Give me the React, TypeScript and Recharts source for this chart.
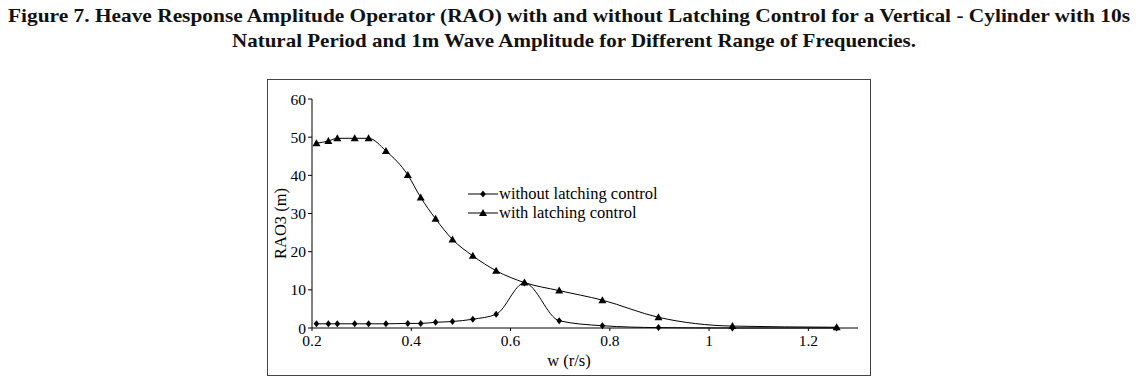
import React from 'react';
import { LineChart, Line, XAxis, YAxis, Legend } from 'recharts';

const frequencies = [0.209, 0.233, 0.251, 0.286, 0.314, 0.349, 0.393, 0.419, 0.449, 0.483, 0.524, 0.571, 0.628, 0.698, 0.785, 0.898, 1.047, 1.257];
const withoutLatching = [1.1, 1.1, 1.1, 1.1, 1.1, 1.1, 1.2, 1.2, 1.5, 1.7, 2.3, 3.6, 11.8, 1.9, 0.6, 0.1, 0.0, 0.0];
const withLatching = [48.4, 49.0, 49.7, 49.7, 49.7, 46.4, 40.1, 34.2, 28.6, 23.2, 18.9, 15.0, 11.9, 9.8, 7.3, 2.8, 0.5, 0.2];
const xTicks = [0.2, 0.4, 0.6, 0.8, 1, 1.2];
const yTicks = [0, 10, 20, 30, 40, 50, 60];
const seriesNames = ['without latching control', 'with latching control'];
const xLabel = 'w (r/s)';
const yLabel = 'RAO3 (m)';
const titleLines = [
  'Figure 7. Heave Response Amplitude Operator (RAO) with and without Latching Control for a Vertical - Cylinder with 10s',
  'Natural Period and 1m Wave Amplitude for Different Range of Frequencies.',
];

const data = frequencies.map((w, i) => ({ w, without: withoutLatching[i], with: withLatching[i] }));

const FONT = '"Liberation Serif", "DejaVu Serif", serif';

const diamondPts = (cx: number, cy: number) =>
  `${cx},${cy - 3.5} ${cx + 2.8},${cy} ${cx},${cy + 3.5} ${cx - 2.8},${cy}`;
const trianglePts = (cx: number, cy: number) =>
  `${cx},${cy - 4} ${cx + 4},${cy + 3} ${cx - 4},${cy + 3}`;

const DiamondDot = (props: any) => {
  const { cx, cy, index } = props;
  if (cx == null || cy == null) return <g key={`d${index}`} />;
  return <polygon key={`d${index}`} points={diamondPts(cx, cy)} fill="#000" stroke="none" />;
};
const TriangleDot = (props: any) => {
  const { cx, cy, index } = props;
  if (cx == null || cy == null) return <g key={`t${index}`} />;
  return <polygon key={`t${index}`} points={trianglePts(cx, cy)} fill="#000" stroke="none" />;
};

const XLabel = (props: any) => {
  const vb = props.viewBox || {};
  const cx = (vb.x ?? 0) + (vb.width ?? 0) / 2 - 16;
  const cy = (vb.y ?? 0) + 32;
  return (
    <text x={cx} y={cy} textAnchor="middle" dominantBaseline="central" fontFamily={FONT} fontSize={16.5} fill="#000">
      {xLabel}
    </text>
  );
};
const YLabel = (props: any) => {
  const vb = props.viewBox || {};
  const cx = (vb.x ?? 0) + 12;
  const cy = (vb.y ?? 0) + (vb.height ?? 0) / 2 + 10;
  return (
    <text x={cx} y={cy} textAnchor="middle" dominantBaseline="central" fontFamily={FONT} fontSize={16.5}
      fill="#000" transform={`rotate(-90 ${cx} ${cy})`}>
      {yLabel}
    </text>
  );
};

const renderLegend = () => (
  <div style={{ fontFamily: FONT, fontSize: 16.5, color: '#000', lineHeight: '19px' }}>
    {seriesNames.map((name, i) => (
      <div key={name} style={{ display: 'flex', alignItems: 'center', height: 19 }}>
        <svg width={31} height={12} style={{ display: 'block' }}>
          <line x1={0} y1={6} x2={30} y2={6} stroke="#000" strokeWidth={1} />
          <polygon points={i === 0 ? diamondPts(15, 6) : trianglePts(15, 6)} fill="#000" />
        </svg>
        <span style={{ whiteSpace: 'nowrap' }}>{name}</span>
      </div>
    ))}
  </div>
);

export default function App() {
  return (
    <div style={{ position: 'absolute', left: 0, top: 0, width: 1137, height: 387, background: '#fff' }}>
      <svg width={1137} height={55} style={{ position: 'absolute', left: 0, top: 0 }}>
        <text x={569} y={22} textAnchor="middle" textLength={1122} lengthAdjust="spacingAndGlyphs"
          fontFamily={FONT} fontWeight="bold" fontSize={19} fill="#111">{titleLines[0]}</text>
        <text x={574} y={47} textAnchor="middle" textLength={684} lengthAdjust="spacingAndGlyphs"
          fontFamily={FONT} fontWeight="bold" fontSize={19} fill="#111">{titleLines[1]}</text>
      </svg>
      <div style={{ position: 'absolute', left: 267, top: 79, width: 602, height: 295, border: '1px solid #444' }}>
        <LineChart width={602} height={295} data={data} margin={{ top: 19, right: 12, bottom: 0, left: 0 }}
          style={{ fontFamily: FONT }}>
          <XAxis dataKey="w" type="number" domain={[0.2, 1.3]} ticks={xTicks} allowDataOverflow
            height={47} tickSize={3} tickMargin={4} stroke="#000"
            tick={{ fill: '#000', fontSize: 15.5, fontFamily: FONT }}
            axisLine={{ stroke: '#000', strokeWidth: 1 }}
            label={<XLabel />} />
          <YAxis type="number" domain={[0, 60]} ticks={yTicks} width={44} tickSize={4} tickMargin={2}
            stroke="#000" tick={{ fill: '#000', fontSize: 15.5, fontFamily: FONT }}
            axisLine={{ stroke: '#000', strokeWidth: 1 }}
            label={<YLabel />} />
          <Legend layout="vertical" align="center" verticalAlign="middle" content={renderLegend}
            wrapperStyle={{ left: 200, top: 104, width: 'auto', height: 'auto' }} />
          <Line type="monotone" dataKey="without" name={seriesNames[0]} stroke="#000" strokeWidth={1}
            dot={DiamondDot} activeDot={false} isAnimationActive={false} />
          <Line type="monotone" dataKey="with" name={seriesNames[1]} stroke="#000" strokeWidth={1}
            dot={TriangleDot} activeDot={false} isAnimationActive={false} />
        </LineChart>
      </div>
    </div>
  );
}
